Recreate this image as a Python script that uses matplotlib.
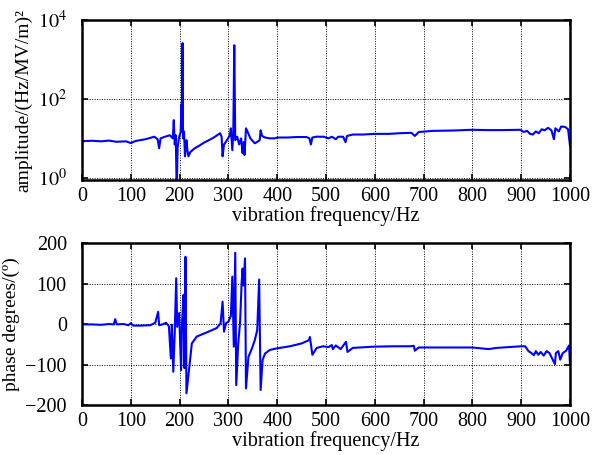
import matplotlib
matplotlib.use("Agg")
import matplotlib.pyplot as plt
from matplotlib.ticker import FixedLocator, NullLocator

plt.rcParams['font.family'] = ['Liberation Serif', 'DejaVu Serif']
plt.rcParams['mathtext.fontset'] = 'stix'

# Amplitude spectrum (frequency Hz, amplitude)
amp_freq = [2, 20, 40, 55, 70, 90, 100, 110, 130, 148, 155, 158, 161, 170, 180, 186, 188, 190, 192, 194,
            196, 199, 202, 204, 205, 206, 207, 209, 211, 214, 216, 218, 222, 230, 240, 250, 260, 270, 283, 286,
            288, 291, 297, 303, 305, 308, 310, 312, 314, 318, 322, 326, 329, 331, 333, 336, 340, 345, 350, 354,
            358, 364, 366, 369, 375, 385, 395, 400, 420, 440, 460, 466, 469, 472, 480, 495, 505, 512, 520, 525,
            535, 540, 543, 555, 575, 600, 630, 650, 675, 682, 690, 720, 760, 800, 830, 860, 898, 905, 912, 918,
            924, 930, 936, 942, 948, 955, 962, 967, 970, 977, 982, 990, 996, 1000]
amp_vals = [8.5, 8.7, 8.4, 8.8, 8.2, 8.4, 7.6, 8.6, 9.5, 11, 9.5, 5.6, 10, 11, 12, 10, 29, 7, 12, 0.5,
            6, 11, 14, 75, 15, 2600, 10, 15, 3.5, 9, 5, 3.5, 4.5, 5.5, 6.5, 7.8, 9, 10.5, 13.5, 11,
            3.5, 7, 9, 12, 18, 5, 14, 2300, 9, 11, 7, 10, 4.2, 8, 3.8, 18, 14, 10, 8.5, 7.5,
            8, 9, 16, 11.5, 10.5, 10, 10, 10.5, 10.5, 10.8, 10.8, 10, 7, 10.5, 11, 11, 10, 11, 9.5, 11,
            11, 8, 11.5, 12.5, 12.5, 13, 13, 13.5, 13.8, 11.5, 14.5, 15.5, 15.8, 16.5, 16.2, 16.2, 16.5, 14.5, 15.5, 13,
            12.5, 15, 13.5, 17, 16, 18.5, 16, 9.5, 18, 15, 20, 19.5, 17, 6.5]

# Phase spectrum (frequency Hz, degrees)
ph_freq = [2, 20, 40, 55, 65, 68, 71, 85, 95, 100, 105, 120, 140, 150, 156, 158, 165, 172, 178, 182,
           184, 187, 190, 193, 195, 199, 203, 205, 208, 210, 212, 214, 220, 225, 235, 255, 276, 284, 288, 291,
           295, 300, 305, 308, 311, 314, 316, 320, 324, 327, 329, 331, 334, 336, 341, 348, 354, 359, 363, 366,
           370, 375, 385, 400, 426, 450, 465, 467, 472, 481, 494, 505, 512, 514, 520, 530, 541, 544, 555, 597,
           640, 672, 680, 682, 690, 750, 800, 833, 850, 900, 908, 915, 921, 926, 930, 935, 940, 946, 952, 958,
           969, 971, 976, 980, 985, 992, 998, 1000]
ph_vals = [-1, -1, -2, 0, -1, 12, -1, 0, -3, 2, -4, -4, -3, 3, 30, -3, -1, 3, -5, -85,
           -2, -118, -20, 113, -7, 27, -114, 5, 72, -109, 166, -171, -105, -48, -31, -21, -10, 2, 55, -19,
           2, 6, 20, 117, -56, 176, -151, -50, 7, 100, 137, 95, 162, -159, -81, -61, -40, -15, 110, -163,
           -89, -73, -64, -60, -55, -48, -40, -32, -76, -59, -55, -57, -52, -62, -53, -62, -44, -69, -59, -56,
           -55, -55, -54, -66, -58, -58, -58, -62, -59, -55, -55, -67, -72, -77, -67, -76, -69, -78, -67, -72,
           -99, -72, -67, -88, -72, -66, -53, -100]

xticks = [0, 100, 200, 300, 400, 500, 600, 700, 800, 900, 1000]
amp_ticks = [1, 100, 10000]
amp_ticklabels = [r'$10^0$', r'$10^2$', r'$10^4$']
ph_ticks = [-200, -100, 0, 100, 200]

fig = plt.figure(figsize=(5.97, 4.55), dpi=100)
ax1 = fig.add_axes([0.1374, 0.6044, 0.8174, 0.3516])
ax2 = fig.add_axes([0.1374, 0.1099, 0.8174, 0.3560])

line_kw = dict(color=(0, 0, 1), lw=1.5)
ax1.plot(amp_freq, amp_vals, **line_kw)
ax1.set_yscale('log')
ax1.set_ylim(0.88, 1e4)
ax1.yaxis.set_major_locator(FixedLocator(amp_ticks))
ax1.yaxis.set_minor_locator(NullLocator())
ax1.set_yticklabels(amp_ticklabels)
ax1.set_ylabel('amplitude/(Hz/MV/m)²', fontsize=14, labelpad=4)

ax2.plot(ph_freq, ph_vals, **line_kw)
ax2.set_ylim(-200, 200)
ax2.set_yticks(ph_ticks)
ax2.set_ylabel('phase degrees/(º)', fontsize=14, labelpad=4)

for ax in (ax1, ax2):
    ax.set_xlim(0, 1000)
    ax.set_xticks(xticks)
    ax.set_xlabel('vibration frequency/Hz', fontsize=14.5, labelpad=0)
    ax.grid(True, color='black', linestyle=(0, (1, 1.5)), linewidth=0.7)
    ax.tick_params(direction='in', top=True, right=True, labelsize=14.5, length=4, width=1.2)
    ax.tick_params(axis='x', pad=5)
    ax.tick_params(axis='y', pad=11)
    for s in ax.spines.values():
        s.set_linewidth(1.8)

fig.savefig('out.png', dpi=100)
